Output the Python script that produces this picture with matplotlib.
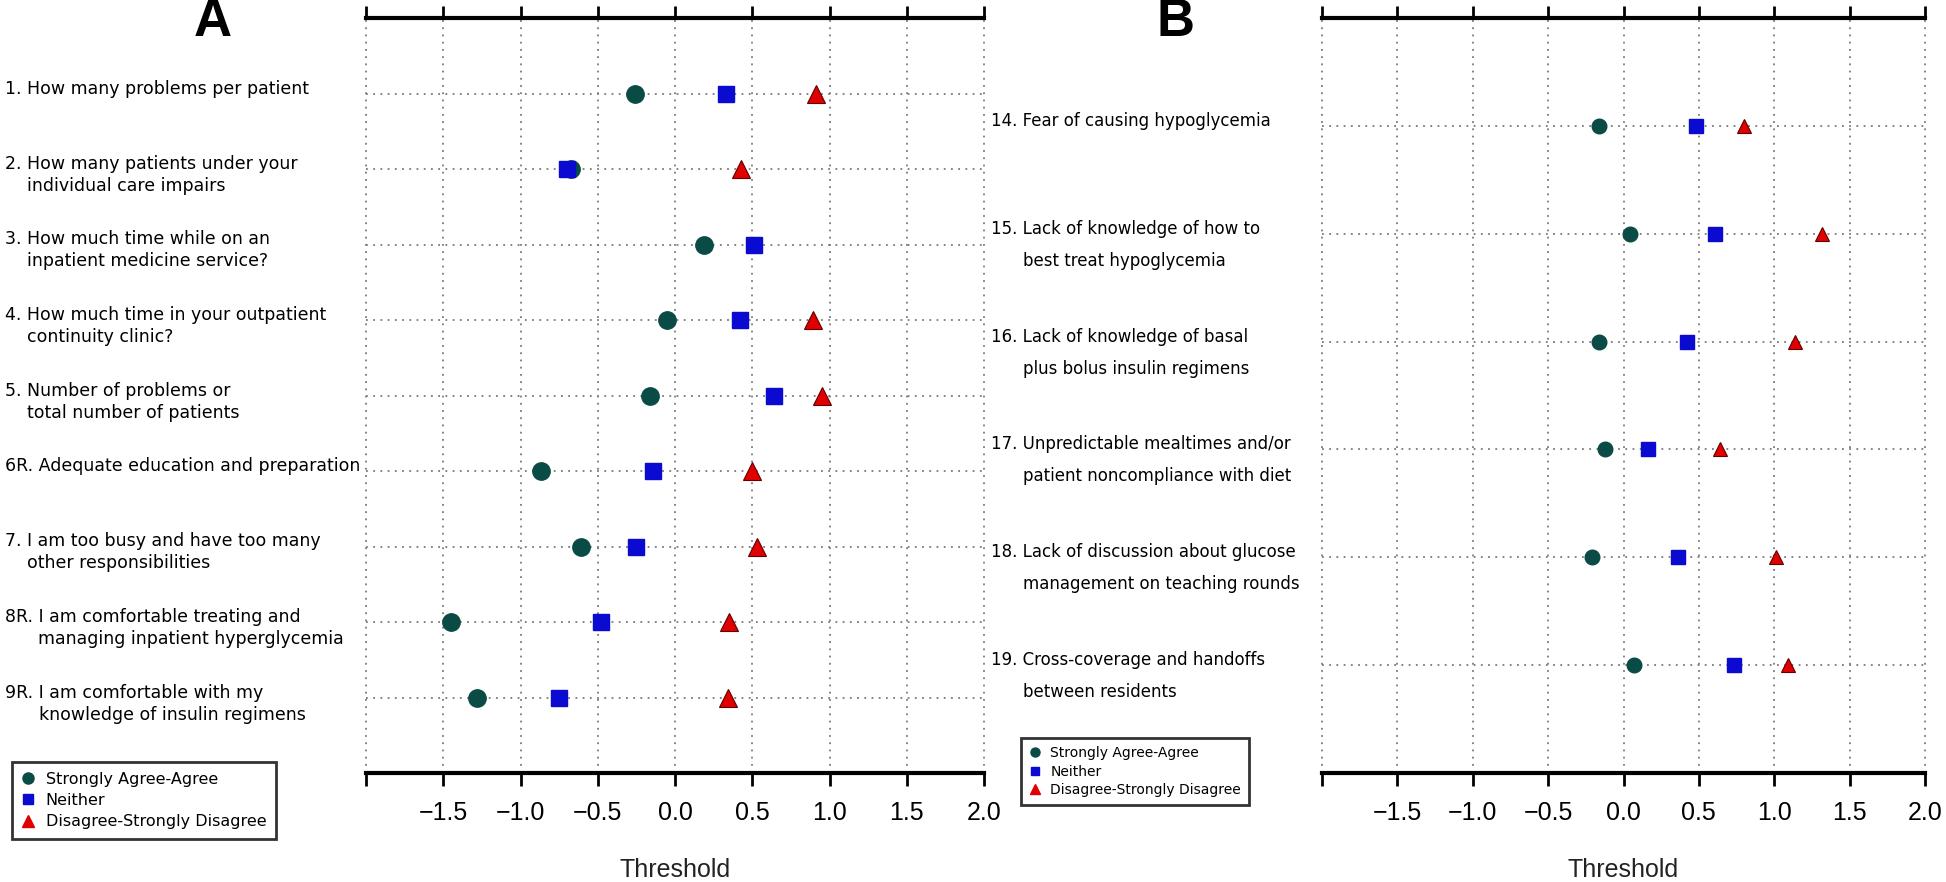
import numpy as np
import matplotlib
matplotlib.use("Agg")
import matplotlib.pyplot as plt
from matplotlib.lines import Line2D
from matplotlib.transforms import blended_transform_factory, offset_copy

# panel A items (top to bottom)
labels_a = [
    "1. How many problems per patient",
    "2. How many patients under your\nindividual care impairs",
    "3. How much time while on an\ninpatient medicine service?",
    "4. How much time in your outpatient\ncontinuity clinic?",
    "5. Number of problems or\ntotal number of patients",
    "6R. Adequate education and preparation",
    "7. I am too busy and have too many\nother responsibilities",
    "8R. I am comfortable treating and\nmanaging inpatient hyperglycemia",
    "9R. I am comfortable with my\nknowledge of insulin regimens",
]
agree_a = [-0.26, -0.67, 0.19, -0.05, -0.16, -0.87, -0.61, -1.45, -1.28]
neither_a = [0.33, -0.70, 0.51, 0.42, 0.64, -0.14, -0.25, -0.48, -0.75]
disagree_a = [0.91, 0.43, np.nan, 0.89, 0.95, 0.50, 0.53, 0.35, 0.34]

# panel B items
labels_b = [
    "14. Fear of causing hypoglycemia",
    "15. Lack of knowledge of how to\nbest treat hypoglycemia",
    "16. Lack of knowledge of basal\nplus bolus insulin regimens",
    "17. Unpredictable mealtimes and/or\npatient noncompliance with diet",
    "18. Lack of discussion about glucose\nmanagement on teaching rounds",
    "19. Cross-coverage and handoffs\nbetween residents",
]
agree_b = [-0.16, 0.04, -0.16, -0.12, -0.21, 0.07]
neither_b = [0.48, 0.61, 0.42, 0.16, 0.36, 0.73]
disagree_b = [0.80, 1.32, 1.14, 0.64, 1.01, 1.09]

series_names = ["Strongly Agree-Agree", "Neither", "Disagree-Strongly Disagree"]
ticks = [-2.0, -1.5, -1.0, -0.5, 0.0, 0.5, 1.0, 1.5, 2.0]

TEAL = "#0b4b45"
BLUE = "#0a0ad0"
RED = "#e00000"
GRID = "#7a7a7a"

W, H = 1946, 882
fig = plt.figure(figsize=(W / 100, H / 100), dpi=100)
renderer = fig.canvas.get_renderer()


def panel(rect, labels, agree, neither, disagree, ms, label_x, gap, fs):
    ax = fig.add_axes(rect)
    n = len(labels)
    rows = np.arange(1, n + 1)
    ax.set_xlim(-2, 2)
    ax.set_ylim(n + 1, 0)

    for r in rows:
        ax.axhline(r, color=GRID, ls=(0, (1, 3)), lw=1.3, zorder=1)
    for t in ticks:
        ax.axvline(t, color=GRID, ls=(0, (1, 3)), lw=1.3, zorder=1, clip_on=False)

    ax.plot(agree, rows, "o", color=TEAL, ms=ms, ls="none", zorder=3)
    ax.plot(neither, rows, "s", color=BLUE, ms=ms * 0.92, ls="none", zorder=4)
    ax.plot(disagree, rows, "^", color=RED, mec="#600000", mew=0.8, ms=ms, ls="none", zorder=5)

    for s in ["left", "right"]:
        ax.spines[s].set_visible(False)
    for s in ["top", "bottom"]:
        ax.spines[s].set_linewidth(3)
    ax.set_yticks([])
    ax.set_xticks(ticks)
    ax.set_xticklabels([""] + [f"{t:.1f}".replace("-", "\u2212") for t in ticks[1:]],
                       family="Liberation Sans")
    ax.tick_params(axis="x", top=True, bottom=True, direction="out", length=9, width=2,
                   labelsize=18, pad=11)

    # row labels to the left of the axes
    trans = blended_transform_factory(fig.transFigure, ax.transData)
    for r, lab in zip(rows, labels):
        lines = lab.split("\n")
        fig.text(label_x / W, r, lines[0], transform=offset_copy(trans, fig=fig, y=5, units="dots"),
                 fontsize=fs, va="center", ha="left")
        if len(lines) > 1:
            prefix = lines[0].split(" ")[0] + " "
            tmp = fig.text(0, 0, prefix, fontsize=fs)
            indent = tmp.get_window_extent(renderer).width
            tmp.remove()
            fig.text(label_x / W, r, lines[1],
                     transform=offset_copy(trans, fig=fig, x=indent, y=5 - gap, units="dots"),
                     fontsize=fs, va="center", ha="left")

    ax.text(0.5, 1 - 870 / H, "Threshold", transform=blended_transform_factory(ax.transAxes, fig.transFigure),
            ha="center", va="center", fontsize=18, family="Liberation Sans", color="#222222")
    return ax


ax_a = panel([366 / W, 1 - 773 / H, 618 / W, 755 / H], labels_a, agree_a, neither_a, disagree_a,
             ms=12.5, label_x=5, gap=22, fs=12.5)
ax_b = panel([1322 / W, 1 - 773 / H, 603 / W, 755 / H], labels_b, agree_b, neither_b, disagree_b,
             ms=10.5, label_x=991, gap=32, fs=12)

fig.text(213 / W, 1 - 22 / H, "A", fontsize=38, fontweight="bold", family="Liberation Sans",
         ha="center", va="center")
fig.text(1175 / W, 1 - 22 / H, "B", fontsize=38, fontweight="bold", family="Liberation Sans",
         ha="center", va="center")


def legend(anchor, ms, fs, spacing):
    handles = [
        Line2D([], [], marker="o", color=TEAL, ls="none", ms=ms),
        Line2D([], [], marker="s", color=BLUE, ls="none", ms=ms * 0.9),
        Line2D([], [], marker="^", color=RED, ls="none", ms=ms),
    ]
    leg = fig.legend(handles, series_names, loc="upper left", bbox_to_anchor=anchor,
                     bbox_transform=fig.transFigure, borderaxespad=0, fancybox=False,
                     edgecolor="black", fontsize=fs, handlelength=0.8, handletextpad=0.7,
                     labelspacing=spacing, borderpad=0.6)
    leg.get_frame().set_linewidth(2)
    return leg


legend((12 / W, 1 - 762 / H), 8, 11.5, 0.4)
legend((1021 / W, 1 - 738 / H), 6.5, 10, 0.3)

fig.savefig("out.png", dpi=100)
